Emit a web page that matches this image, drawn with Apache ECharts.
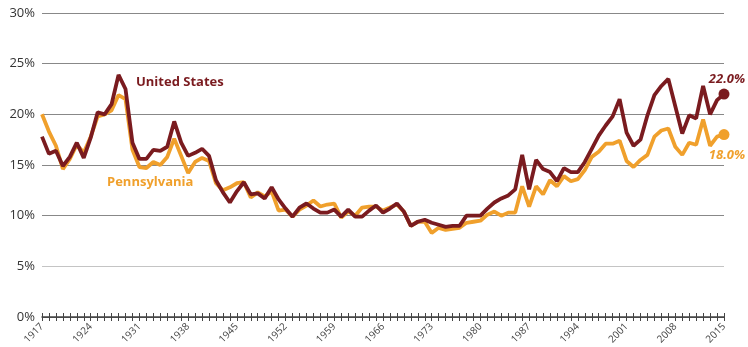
<!DOCTYPE html>
<html>
<head>
<meta charset="utf-8">
<script src="https://cdn.jsdelivr.net/npm/echarts@6/dist/echarts.min.js"></script>
<style>
  html, body { margin: 0; padding: 0; background: #fff; }
  #chart { width: 748px; height: 347px; }
</style>
</head>
<body>
<div id="chart"></div>
<script>
// years 1917 - 2015
const years = [];
for (let y = 1917; y <= 2015; y++) years.push(String(y));

// share of income, percent
const usValues = [
  17.8, 16.1, 16.4, 14.9, 15.8, 17.2, 15.7, 17.7, 20.2, 20.0, // 1917-1926
  21.0, 23.9, 22.5, 17.2, 15.6, 15.6, 16.5, 16.4, 16.8, 19.3, // 1927-1936
  17.2, 15.9, 16.2, 16.6, 15.9, 13.5, 12.3, 11.3, 12.4, 13.3, // 1937-1946
  12.1, 12.2, 11.7, 12.8, 11.6, 10.7, 9.9, 10.8, 11.2, 10.7,  // 1947-1956
  10.3, 10.3, 10.6, 9.9, 10.6, 9.9, 9.9, 10.5, 11.0, 10.3,    // 1957-1966
  10.7, 11.2, 10.4, 9.0, 9.4, 9.6, 9.3, 9.1, 8.9, 9.0,        // 1967-1976
  9.0, 10.0, 10.0, 10.0, 10.7, 11.3, 11.7, 12.0, 12.6, 16.0,  // 1977-1986
  12.6, 15.5, 14.6, 14.3, 13.4, 14.7, 14.3, 14.3, 15.3, 16.6, // 1987-1996
  17.9, 18.9, 19.8, 21.5, 18.2, 16.9, 17.5, 19.9, 21.9, 22.8, // 1997-2006
  23.5, 20.8, 18.1, 19.9, 19.6, 22.8, 20.0, 21.4, 22.0        // 2007-2015
];
const paValues = [
  20.0, 18.3, 16.9, 14.6, 15.6, 17.0, 16.2, 17.8, 19.8, 20.0, // 1917-1926
  20.4, 21.9, 21.5, 16.5, 14.8, 14.7, 15.3, 15.0, 15.8, 17.6, // 1927-1936
  15.9, 14.2, 15.3, 15.7, 15.4, 13.2, 12.5, 12.8, 13.2, 13.3, // 1937-1946
  11.8, 12.3, 11.9, 12.4, 10.5, 10.6, 9.9, 10.6, 11.0, 11.5,  // 1947-1956
  10.9, 11.1, 11.2, 9.8, 10.4, 10.0, 10.8, 10.9, 10.9, 10.5,  // 1957-1966
  10.8, 11.1, 10.4, 9.0, 9.4, 9.4, 8.3, 8.8, 8.6, 8.7,        // 1967-1976
  8.8, 9.3, 9.4, 9.5, 10.1, 10.4, 10.0, 10.3, 10.3, 12.9,     // 1977-1986
  10.9, 12.9, 12.1, 13.5, 12.9, 13.9, 13.4, 13.6, 14.5, 15.8, // 1987-1996
  16.3, 17.1, 17.1, 17.4, 15.4, 14.8, 15.5, 16.0, 17.8, 18.4, // 1997-2006
  18.6, 16.8, 16.0, 17.2, 17.0, 19.5, 16.9, 17.8, 18.0        // 2007-2015
];
const yTicks = [0, 5, 10, 15, 20, 25, 30];

const usColor = "#7a1b1f";
const paColor = "#f0a02c";

// last point gets a dot and a value label
function withEndPoint(values, color, labelPos) {
  return values.map((v, i) => {
    if (i !== values.length - 1) return v;
    return {
      value: v,
      symbol: "circle",
      symbolSize: 11,
      itemStyle: { color: color },
      label: {
        show: true,
        position: labelPos,
        distance: labelPos === "top" ? 3 : 9,
        offset: [3, 0],
        formatter: v.toFixed(1) + "%",
        color: color,
        fontSize: 13,
        fontWeight: "bold",
        fontStyle: "italic",
        fontFamily: "Open Sans",
      },
    };
  });
}

const chart = echarts.init(document.getElementById("chart"));
chart.setOption({
  animation: false,
  grid: { left: 42, right: 24, top: 13, bottom: 30 },
  xAxis: [
    {
      type: "category",
      data: years,
      boundaryGap: false,
      axisLine: { lineStyle: { color: "#444", width: 1.5 } },
      axisTick: { interval: 0, length: 4, lineStyle: { color: "#444" } },
      axisLabel: {
        interval: 6,
        rotate: 45,
        fontSize: 10,
        color: "#444",
        fontFamily: "Open Sans",
        margin: 8,
      },
    },
    {
      type: "category",
      data: years,
      boundaryGap: false,
      position: "bottom",
      axisLine: { show: false },
      axisTick: { interval: 0, inside: true, length: 4, lineStyle: { color: "#444" } },
      axisLabel: { show: false },
    },
  ],
  yAxis: {
    type: "value",
    min: yTicks[0],
    max: yTicks[yTicks.length - 1],
    interval: 5,
    axisLine: { show: false },
    axisTick: { show: false },
    axisLabel: {
      formatter: "{value}%",
      fontSize: 13,
      color: "#333",
      fontFamily: "Open Sans",
      margin: 7,
    },
    splitLine: {
      lineStyle: {
        color: ["#555", "#c4c4c4", "#888", "#888", "#888", "#888", "#888"],
        width: 1,
      },
    },
  },
  graphic: [
    {
      type: "text",
      left: 136,
      top: 76,
      style: {
        text: "United States",
        fill: usColor,
        font: "bold 13px 'Open Sans'",
      },
    },
    {
      type: "text",
      left: 107,
      top: 176,
      style: {
        text: "Pennsylvania",
        fill: paColor,
        font: "bold 13px 'Open Sans'",
      },
    },
  ],
  series: [
    {
      name: "Pennsylvania",
      type: "line",
      data: withEndPoint(paValues, paColor, "bottom"),
      symbol: "none",
      showSymbol: true,
      showAllSymbol: true,
      lineStyle: { color: paColor, width: 3.8 },
      itemStyle: { color: paColor },
      z: 2,
    },
    {
      name: "United States",
      type: "line",
      data: withEndPoint(usValues, usColor, "top"),
      symbol: "none",
      showSymbol: true,
      showAllSymbol: true,
      lineStyle: { color: usColor, width: 3.8 },
      itemStyle: { color: usColor },
      z: 3,
    },
  ],
});
</script>
</body>
</html>
